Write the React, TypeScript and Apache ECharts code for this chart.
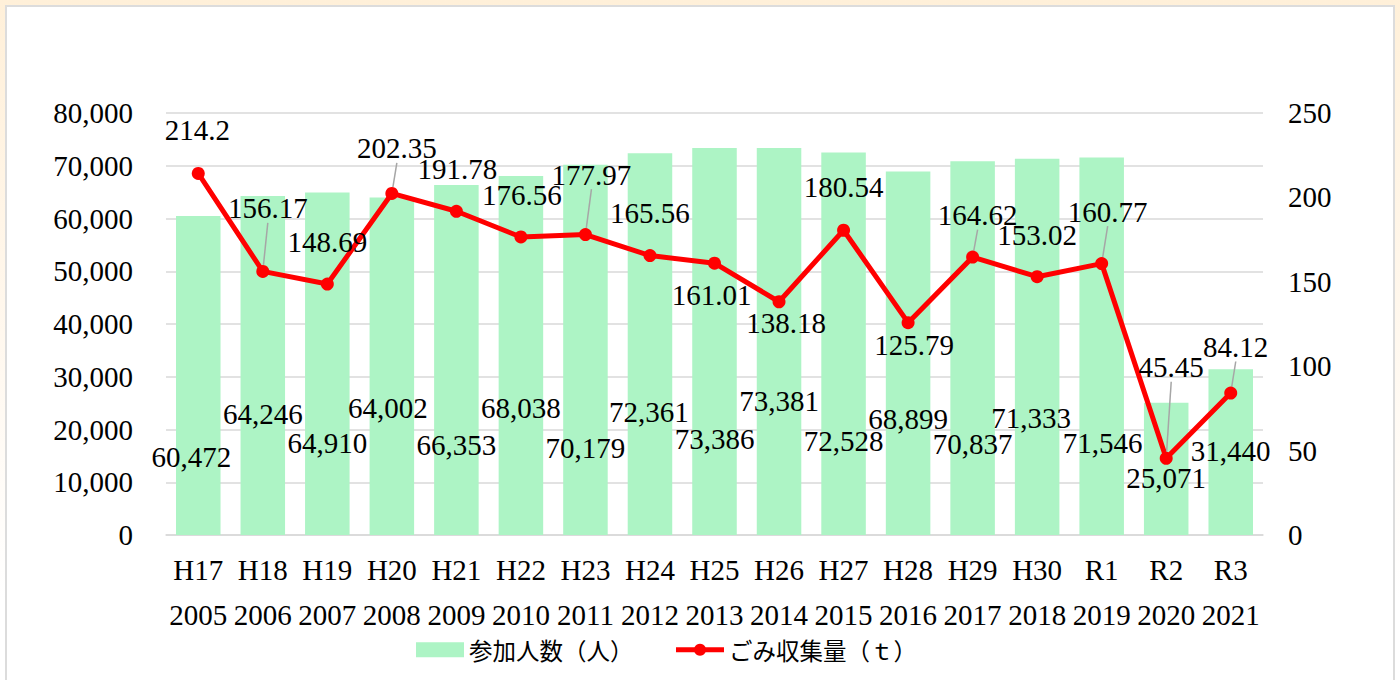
import React, { useEffect, useRef } from "react";
import * as echarts from "echarts";

const eraLabels = ["H17", "H18", "H19", "H20", "H21", "H22", "H23", "H24", "H25", "H26", "H27", "H28", "H29", "H30", "R1", "R2", "R3"];
const yearLabels = ["2005", "2006", "2007", "2008", "2009", "2010", "2011", "2012", "2013", "2014", "2015", "2016", "2017", "2018", "2019", "2020", "2021"];
const participants = [60472, 64246, 64910, 64002, 66353, 68038, 70179, 72361, 73386, 73381, 72528, 68899, 70837, 71333, 71546, 25071, 31440];
const garbageTons = [214.2, 156.17, 148.69, 202.35, 191.78, 176.56, 177.97, 165.56, 161.01, 138.18, 180.54, 125.79, 164.62, 153.02, 160.77, 45.45, 84.12];

// label placement (offsets in px), as in the reference
const barLabelDx = [-7, 0, 0, -4, 0, 0, 0, -1, 0, 0, 0, 0, 0, -6, 1, 0, 0];
const barLabelLift = [78, 121, 92, 127, 90, 127, 87, 123, 96, 134, 94, 116, 91, 117, 92, 57, 84];
const lineLabelDx = [-1, 5, 0, 5, 1, 1, 6, 0, -3, 7, 0, 6, 5, 0, 6, 5, 5];
const lineLabelDy = [-43, -63, -42, -45, -42, -42, -60, -43, 32, 21, -43, 22, -42, -42, -52, -91, -46];
const leaderShown = [false, true, false, true, false, false, true, false, false, false, false, false, true, false, true, true, true];

const FONT = "'Liberation Serif', 'Noto Sans CJK JP', serif";
const BAR_NAME = "参加人数（人）";
const LINE_NAME = "ごみ収集量（ｔ）";

export default function App() {
  const ref = useRef<HTMLDivElement>(null);
  useEffect(() => {
    if (!ref.current) return;
    const chart = echarts.init(ref.current, undefined, { renderer: "svg" });
    const categories = eraLabels.map((e, i) => e + "\n" + yearLabels[i]);
    chart.setOption({
      animation: false,
      backgroundColor: "transparent",
      textStyle: { fontFamily: FONT, color: "#000" },
      grid: { left: 166, right: 137, top: 113, bottom: 145, containLabel: false },
      legend: {
        left: 411,
        top: 633,
        itemWidth: 48,
        itemHeight: 15,
        itemGap: 40,
        lineStyle: { width: 5 },
        textStyle: { fontSize: 23.5, color: "#000", fontFamily: "'Noto Sans CJK JP', sans-serif" },
        data: [{ name: BAR_NAME, icon: "rect" }, { name: LINE_NAME }],
      },
      xAxis: {
        type: "category",
        data: categories,
        axisLine: { lineStyle: { color: "#d9d9d9", width: 1.5 } },
        axisTick: { show: false },
        axisLabel: { fontSize: 29, lineHeight: 45, margin: 12, color: "#000", fontFamily: FONT, interval: 0 },
      },
      yAxis: [
        {
          type: "value",
          min: 0,
          max: 80000,
          interval: 10000,
          axisLine: { show: false },
          axisTick: { show: false },
          splitLine: { lineStyle: { color: "#d9d9d9", width: 1.5 } },
          axisLabel: {
            fontSize: 29,
            margin: 33,
            color: "#000",
            fontFamily: FONT,
            formatter: (v: number) => v.toLocaleString("en-US"),
          },
        },
        {
          type: "value",
          min: 0,
          max: 250,
          interval: 50,
          position: "right",
          axisLine: { show: false },
          axisTick: { show: false },
          splitLine: { show: false },
          axisLabel: { fontSize: 29, margin: 25, color: "#000", fontFamily: FONT },
        },
      ],
      series: [
        {
          name: BAR_NAME,
          type: "bar",
          yAxisIndex: 0,
          data: participants,
          barCategoryGap: "31%",
          itemStyle: { color: "#adf4c5" },
          label: {
            show: true,
            position: "insideBottom",
            fontSize: 29,
            color: "#000",
            fontFamily: FONT,
            formatter: (p: any) => Number(p.value).toLocaleString("en-US"),
          },
          labelLayout: (p: any) => {
            const i = p.dataIndex;
            return {
              x: p.rect.x + p.rect.width / 2 + barLabelDx[i],
              y: p.rect.y + p.rect.height - barLabelLift[i],
              align: "center",
              verticalAlign: "middle",
            };
          },
        },
        {
          name: LINE_NAME,
          type: "line",
          yAxisIndex: 1,
          z: 5,
          data: garbageTons.map((v, i) => ({ value: v, labelLine: { show: leaderShown[i] } })),
          symbol: "circle",
          symbolSize: 13,
          lineStyle: { color: "#ff0000", width: 5 },
          itemStyle: { color: "#ff0000" },
          label: {
            show: true,
            position: "inside",
            fontSize: 29,
            color: "#000",
            fontFamily: FONT,
            formatter: (p: any) => String(p.value),
          },
          labelLine: { show: false, lineStyle: { color: "#a6a6a6", width: 1.5 } },
          labelLayout: (p: any) => {
            const i = p.dataIndex;
            return {
              x: p.rect.x + p.rect.width / 2 + lineLabelDx[i],
              y: p.rect.y + p.rect.height / 2 + lineLabelDy[i],
              align: "center",
              verticalAlign: "middle",
            };
          },
        },
      ],
    });
    return () => chart.dispose();
  }, []);

  return (
    <div
      style={{
        position: "fixed",
        left: 0,
        top: 0,
        width: 1400,
        height: 680,
        overflow: "hidden",
        background: "linear-gradient(to bottom, #fff0d9 0px, #fff7ec 300px, #ffffff 600px)",
      }}
    >
      <div
        style={{
          position: "absolute",
          left: 5,
          top: 5,
          width: 1386,
          height: 700,
          background: "#ffffff",
          border: "2px solid #dcdcdc",
        }}
      />
      <div ref={ref} style={{ position: "absolute", left: 0, top: 0, width: 1400, height: 680 }} />
    </div>
  );
}
